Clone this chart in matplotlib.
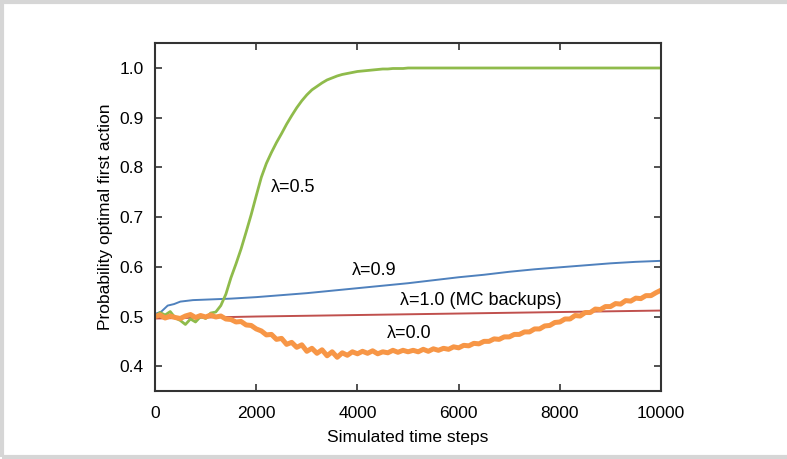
import numpy as np
import matplotlib.pyplot as plt
from matplotlib.patches import Rectangle

# time axis samples
steps_100 = list(range(0, 10001, 100))
steps_blue = [0, 125, 250, 375, 500, 750, 1000, 1250, 1500, 2000, 2500, 3000, 3500,
              4000, 4500, 5000, 5500, 6000, 6500, 7000, 7500, 8000, 8500, 9000,
              9500, 10000]
steps_red = [0, 1000, 2000, 4000, 6000, 8000, 10000]

# lambda = 0.0 (orange)
lam00 = [0.500, 0.503, 0.497, 0.501, 0.498, 0.496, 0.501, 0.504, 0.498, 0.502,
         0.499, 0.503, 0.499, 0.501, 0.495, 0.494, 0.489, 0.490, 0.483, 0.482,
         0.475, 0.471, 0.463, 0.464, 0.454, 0.456, 0.444, 0.448, 0.438, 0.443,
         0.430, 0.436, 0.426, 0.433, 0.421, 0.429, 0.418, 0.427, 0.422, 0.429,
         0.425, 0.430, 0.426, 0.431, 0.425, 0.429, 0.427, 0.432, 0.428, 0.432,
         0.429, 0.432, 0.429, 0.434, 0.430, 0.435, 0.432, 0.436, 0.434, 0.439,
         0.437, 0.442, 0.441, 0.446, 0.445, 0.450, 0.450, 0.455, 0.454, 0.459,
         0.459, 0.464, 0.464, 0.469, 0.469, 0.475, 0.475, 0.481, 0.482, 0.488,
         0.489, 0.495, 0.495, 0.502, 0.501, 0.508, 0.508, 0.515, 0.514, 0.520,
         0.520, 0.526, 0.525, 0.532, 0.531, 0.537, 0.536, 0.542, 0.542, 0.548,
         0.553]

# lambda = 0.5 (green)
lam05 = [0.500, 0.508, 0.503, 0.510, 0.497, 0.492, 0.484, 0.495, 0.489, 0.500,
         0.496, 0.507, 0.509, 0.522, 0.545, 0.578, 0.606, 0.636, 0.670, 0.705,
         0.743, 0.780, 0.808, 0.830, 0.850, 0.868, 0.887, 0.904, 0.920, 0.934,
         0.946, 0.956, 0.963, 0.970, 0.976, 0.980, 0.984, 0.987, 0.989, 0.991,
         0.993, 0.994, 0.995, 0.996, 0.997, 0.998, 0.998, 0.999, 0.999, 0.999,
         1.000, 1.000, 1.000, 1.000, 1.000, 1.000, 1.000, 1.000, 1.000, 1.000,
         1.000, 1.000, 1.000, 1.000, 1.000, 1.000, 1.000, 1.000, 1.000, 1.000,
         1.000, 1.000, 1.000, 1.000, 1.000, 1.000, 1.000, 1.000, 1.000, 1.000,
         1.000, 1.000, 1.000, 1.000, 1.000, 1.000, 1.000, 1.000, 1.000, 1.000,
         1.000, 1.000, 1.000, 1.000, 1.000, 1.000, 1.000, 1.000, 1.000, 1.000,
         1.000]

# lambda = 0.9 (blue)
lam09 = [0.505, 0.510, 0.522, 0.525, 0.530, 0.533, 0.534, 0.535, 0.536, 0.539,
         0.543, 0.547, 0.552, 0.557, 0.562, 0.567, 0.573, 0.579, 0.584, 0.590,
         0.595, 0.599, 0.603, 0.607, 0.610, 0.612]

# lambda = 1.0 (red)
lam10 = [0.496, 0.498, 0.500, 0.503, 0.506, 0.509, 0.512]

plt.rcParams['font.family'] = ['Liberation Sans', 'DejaVu Sans']
plt.rcParams['font.size'] = 12.5

fig = plt.figure(figsize=(7.87, 4.59), dpi=100)
fig.patches.append(Rectangle((0.003, 0.005), 1.2, 0.99, transform=fig.transFigure,
                             fill=False, edgecolor='#d6d6d6', linewidth=3))
ax = fig.add_axes([0.197, 0.148, 0.643, 0.758])

ax.plot(steps_red, lam10, color='#c0504d', lw=1.4)
ax.plot(steps_blue, lam09, color='#4f81bd', lw=1.4)
ax.plot(steps_100, lam05, color='#8fbb4b', lw=2.0)
ax.plot(steps_100, lam00, color='#f79646', lw=3.6)

ax.text(2290, 0.760, 'λ=0.5', va='center', ha='left', fontsize=13)
ax.text(3890, 0.592, 'λ=0.9', va='center', ha='left', fontsize=13)
ax.text(4840, 0.533, 'λ=1.0 (MC backups)', va='center', ha='left', fontsize=13)
ax.text(4585, 0.465, 'λ=0.0', va='center', ha='left', fontsize=13)

ax.set_xlim(0, 10000)
ax.set_ylim(0.35, 1.05)
ax.set_xticks([0, 2000, 4000, 6000, 8000, 10000])
ax.set_yticks([0.4, 0.5, 0.6, 0.7, 0.8, 0.9, 1.0])
ax.set_yticklabels(['0.4', '0.5', '0.6', '0.7', '0.8', '0.9', '1.0'])
ax.tick_params(direction='in', top=True, right=True, length=5, width=1.2,
               color='#333333', labelsize=12.5, pad=8)
ax.tick_params(axis='x', pad=11)
for s in ax.spines.values():
    s.set_color('#333333')
    s.set_linewidth(1.5)
ax.set_xlabel('Simulated time steps', fontsize=12.5, labelpad=6)
ax.set_ylabel('Probability optimal first action', fontsize=12.5, labelpad=5)

fig.savefig('out.png', dpi=100)
